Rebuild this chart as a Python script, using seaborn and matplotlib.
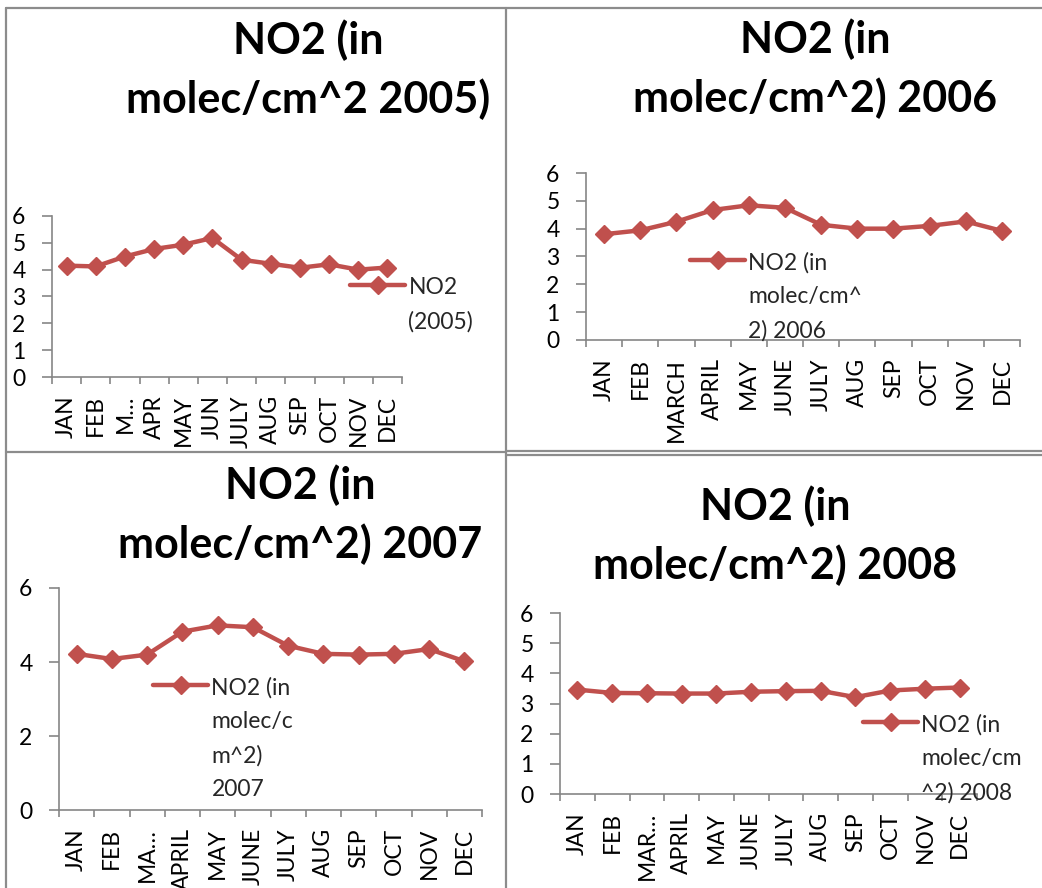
import numpy as np
import pandas as pd
import matplotlib
matplotlib.use("Agg")
import matplotlib.pyplot as plt
from matplotlib.lines import Line2D
import seaborn as sns

# ---------------- data ----------------
months_2005 = ["JAN", "FEB", "M…", "APR", "MAY", "JUN", "JULY", "AUG", "SEP", "OCT", "NOV", "DEC"]
months_2006 = ["JAN", "FEB", "MARCH", "APRIL", "MAY", "JUNE", "JULY", "AUG", "SEP", "OCT", "NOV", "DEC"]
months_2007 = ["JAN", "FEB", "MA…", "APRIL", "MAY", "JUNE", "JULY", "AUG", "SEP", "OCT", "NOV", "DEC"]
months_2008 = ["JAN", "FEB", "MAR…", "APRIL", "MAY", "JUNE", "JULY", "AUG", "SEP", "OCT", "NOV", "DEC"]

no2_2005 = [4.15, 4.12, 4.49, 4.77, 4.93, 5.18, 4.37, 4.22, 4.07, 4.20, 4.00, 4.08]
no2_2006 = [3.80, 3.94, 4.25, 4.67, 4.84, 4.75, 4.14, 4.00, 4.00, 4.10, 4.26, 3.92]
no2_2007 = [4.22, 4.08, 4.20, 4.82, 4.99, 4.94, 4.44, 4.22, 4.20, 4.22, 4.35, 4.02]
no2_2008 = [3.46, 3.35, 3.34, 3.33, 3.33, 3.39, 3.41, 3.42, 3.21, 3.43, 3.49, 3.53]

titles = ["NO2 (in\nmolec/cm^2 2005)", "NO2 (in\nmolec/cm^2) 2006",
          "NO2 (in\nmolec/cm^2) 2007", "NO2 (in\nmolec/cm^2) 2008"]
series_labels = ["NO2\n(2005)", "NO2 (in\nmolec/cm^\n2) 2006",
                 "NO2 (in\nmolec/c\nm^2)\n2007", "NO2 (in\nmolec/cm\n^2) 2008"]
yticks_list = [[0, 1, 2, 3, 4, 5, 6], [0, 1, 2, 3, 4, 5, 6], [0, 2, 4, 6], [0, 1, 2, 3, 4, 5, 6]]

# ---------------- layout (pixels) ----------------
W, H = 1042, 888
axes_px = [(52, 216, 402, 377), (586, 173, 1020, 340), (59, 588, 482, 810), (560, 613, 977, 794)]
title_px = [(308, 113), (815, 112), (300, 558), (775, 579)]   # baseline of last title line
legend_px = [(350, 277), (690, 252), (153, 677), (863, 714)]

sns.set_style("white")
plt.rcParams["font.family"] = ["Lato", "DejaVu Sans"]

RED = "#C0504D"
GRAY = "#868686"
FRAME = "#8c8c8c"

fig = plt.figure(figsize=(W / 100, H / 100), dpi=100)


def frac_rect(x0, y0, x1, y1):
    return [x0 / W, 1 - y1 / H, (x1 - x0) / W, (y1 - y0) / H]


def fig_line(x0, y0, x1, y1):
    fig.add_artist(Line2D([x0 / W, x1 / W], [1 - y0 / H, 1 - y1 / H],
                          transform=fig.transFigure, color=FRAME, lw=1.6))


# panel frames
fig_line(6, 8, W, 8)
fig_line(6, 8, 6, H)
fig_line(506, 8, 506, H)
fig_line(6, 452, 506, 452)
fig_line(506, 451, W, 451)
fig_line(506, 455, W, 455)

data_sets = [(months_2005, no2_2005), (months_2006, no2_2006),
             (months_2007, no2_2007), (months_2008, no2_2008)]

for i, (months, vals) in enumerate(data_sets):
    ax = fig.add_axes(frac_rect(*axes_px[i]))
    df = pd.DataFrame({"month": months, "value": vals})
    sns.lineplot(data=df, x="month", y="value", ax=ax, sort=False,
                 color=RED, linewidth=3.2, marker="D", markersize=9.3,
                 markeredgecolor=RED, markeredgewidth=1, label=series_labels[i])
    ax.set_xlim(-0.5, len(months) - 0.5)
    ax.set_ylim(0, 6)
    ax.set_yticks(yticks_list[i])
    ax.set_xticks(np.arange(len(months)))
    ax.set_xticklabels(months, rotation=90)
    ax.set_xticks(np.arange(-0.5, len(months), 1), minor=True)
    ax.set_xlabel("")
    ax.set_ylabel("")
    for s in ["top", "right"]:
        ax.spines[s].set_visible(False)
    for s in ["left", "bottom"]:
        ax.spines[s].set_color(GRAY)
        ax.spines[s].set_linewidth(1.2)
    ax.tick_params(axis="x", which="major", length=0, pad=13, labelsize=16.5, labelcolor="black")
    ax.tick_params(axis="x", which="minor", length=5, width=1.2, color=GRAY, direction="out")
    ax.tick_params(axis="y", which="major", length=7, width=1.2, color=GRAY, direction="out",
                   pad=12, labelsize=16.5, labelcolor="black")
    ax.tick_params(left=True, bottom=True)
    ax.tick_params(axis="x", which="minor", bottom=True)
    ax.patch.set_alpha(0)

    lx, ly = legend_px[i]
    leg = ax.legend(loc="upper left", bbox_to_anchor=(lx / W, 1 - ly / H),
                    bbox_transform=fig.transFigure, frameon=False, fontsize=16.5,
                    borderpad=0, borderaxespad=0, handlelength=2.4, handletextpad=0.15)
    for t in leg.get_texts():
        t.set_linespacing(1.73)
    try:
        for col in leg._legend_handle_box.get_children():
            for row in col.get_children():
                row.align = "top"
    except Exception:
        pass

    tx, ty = title_px[i]
    fig.text(tx / W, 1 - ty / H, titles[i], ha="center", va="baseline",
             fontsize=31, fontweight="bold", linespacing=1.5, color="black")

fig.savefig("out.png", dpi=100)
